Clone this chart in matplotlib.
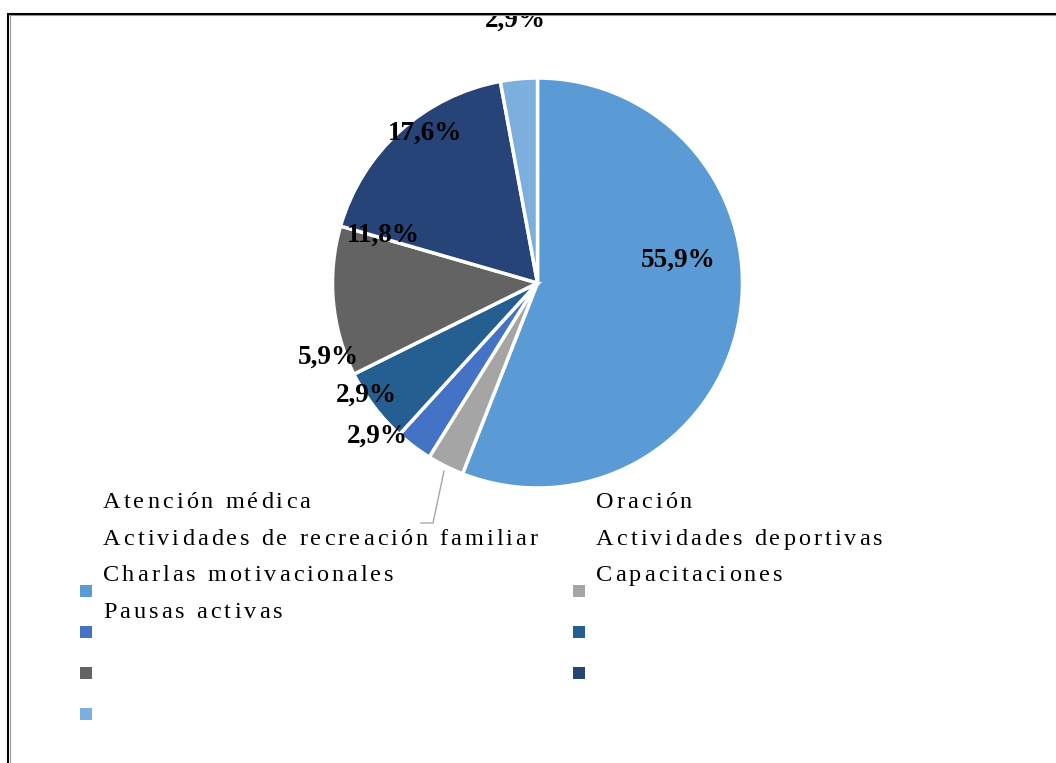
import matplotlib
matplotlib.use("Agg")
import matplotlib.pyplot as plt
from matplotlib.patches import Rectangle
from matplotlib.lines import Line2D

# ---- data ----
categories = ["Atención médica", "Oración", "Actividades de recreación familiar",
              "Actividades deportivas", "Charlas motivacionales", "Capacitaciones",
              "Pausas activas"]
values = [55.9, 2.9, 2.9, 5.9, 11.8, 17.6, 2.9]
value_labels = ["55,9%", "2,9%", "2,9%", "5,9%", "11,8%", "17,6%", "2,9%"]
colors = ["#5B9BD5", "#A5A5A5", "#4472C4", "#255E91", "#636363", "#264478", "#7CAFDD"]

# ---- layout (pixels) ----
W, H = 1056, 763
fig = plt.figure(figsize=(W / 100, H / 100), dpi=100)
fig.patch.set_facecolor("white")


def fx(x):
    return x / W


def fy(y):
    return 1 - y / H


cx, cy, r = 537.5, 283, 205
ax = fig.add_axes([fx(cx - r), fy(cy + r), 2 * r / W, 2 * r / H])
ax.pie(values, colors=colors, startangle=90, counterclock=False,
       wedgeprops=dict(edgecolor="white", linewidth=2.5))
ax.set_xlim(-1, 1)
ax.set_ylim(-1, 1)
ax.set_aspect("equal")
ax.axis("off")

# data labels (Excel placement, baseline pixel coords)
label_pos = [(678, 267), (366, 402), (377, 443), (328, 364), (383, 242), (425, 140), (515, 27)]
for i, (lab, (x, y)) in enumerate(zip(value_labels, label_pos)):
    fig.text(fx(x), fy(y), lab, ha="center", va="baseline",
             fontfamily="Liberation Serif", fontweight="bold", fontsize=19.5,
             color="black", zorder=3)

# leader line for the small grey slice
fig.add_artist(Line2D([fx(444), fx(433), fx(421)], [fy(471), fy(523), fy(523)],
                      color="#A6A6A6", lw=1.0, zorder=2))

# ---- legend (text rows above, markers below, as in the source) ----
fig.canvas.draw()
renderer = fig.canvas.get_renderer()
leg_fs = 17.5
spacing = 3.0
space_w = 0.25 * leg_fs * 100 / 72


def spaced_text(x0, ybase, s):
    x = x0
    for ch in s:
        if ch == " ":
            x += space_w + spacing
            continue
        t = fig.text(fx(x), fy(ybase), ch, ha="left", va="baseline",
                     fontfamily="Liberation Serif", fontsize=leg_fs, color="black")
        w = t.get_window_extent(renderer).width
        x += w + spacing


col_x = [103, 596]
row_base = [508, 545, 581, 618]
for i, name in enumerate(categories):
    spaced_text(col_x[i % 2], row_base[i // 2], name)

mk_x = [80, 573]
mk_top = [585, 626, 667, 708]
for i, c in enumerate(colors):
    x = mk_x[i % 2]
    y = mk_top[i // 2]
    fig.add_artist(Rectangle((fx(x), fy(y + 12)), 12 / W, 12 / H,
                             transform=fig.transFigure, facecolor=c, edgecolor="none"))

# ---- frame (top and left edges), clipping the top label ----
fig.add_artist(Rectangle((0, fy(13.5)), 1, 13.5 / H, transform=fig.transFigure,
                         facecolor="white", edgecolor="none", zorder=5))
fig.add_artist(Line2D([fx(9), 1], [fy(15), fy(15)], color="#9A9A9A", lw=0.8,
                      solid_capstyle="butt", zorder=6))
fig.add_artist(Line2D([fx(9.5), fx(9.5)], [fy(15), 0], color="#9A9A9A", lw=0.8,
                      solid_capstyle="butt", zorder=6))
fig.add_artist(Line2D([fx(6.5), 1], [fy(13.5), fy(13.5)], color="black", lw=1.5,
                      solid_capstyle="butt", zorder=7))
fig.add_artist(Line2D([fx(7.5), fx(7.5)], [fy(12.5), 0], color="black", lw=1.5,
                      solid_capstyle="butt", zorder=7))

fig.savefig("out.png", dpi=100)
